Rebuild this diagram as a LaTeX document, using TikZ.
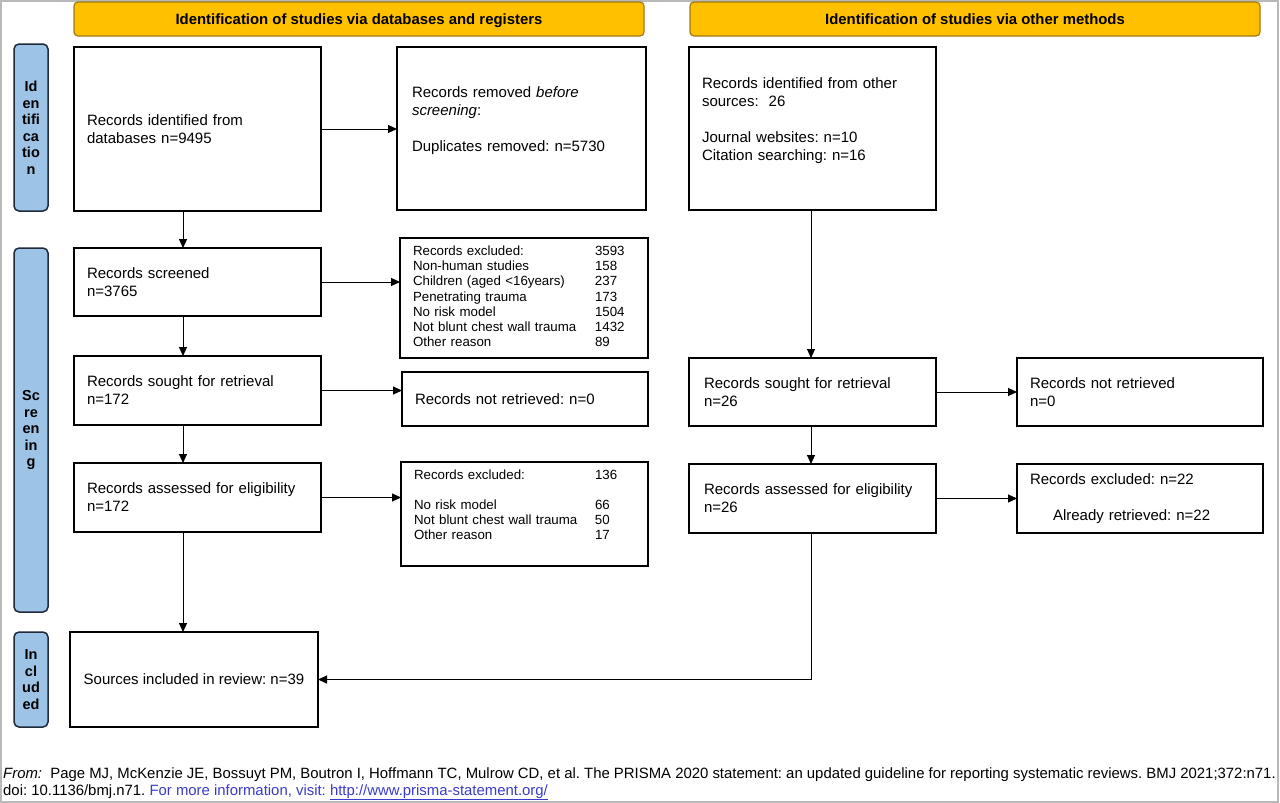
\documentclass[tikz,border=0pt]{standalone}
\usepackage{fontspec}
\setmainfont{Liberation Sans}
\usetikzlibrary{arrows.meta,calc}
\definecolor{hdr}{HTML}{FFC000}
\definecolor{hdrb}{HTML}{A07A10}
\definecolor{side}{HTML}{9DC3E6}
\definecolor{sideb}{HTML}{1F2A3A}
\definecolor{lnk}{HTML}{3A3ACC}
\frenchspacing
\begin{document}
\begin{tikzpicture}[x=1pt,y=-1pt,
 box/.style={draw=black, line width=1.6pt, fill=white, inner xsep=13pt, inner ysep=0pt, outer sep=0pt, align=left, font=\fontsize{15}{18}\selectfont},
 small/.style={font=\fontsize{13.3}{15.2}\selectfont},
 hdrbox/.style={draw=hdrb, fill=hdr, rounded corners=4pt, line width=1.2pt, minimum width=570pt, minimum height=34pt, inner sep=0pt, outer sep=0pt, text depth=0pt, font=\bfseries\fontsize{14.9}{18}\selectfont},
 sidebar/.style={draw=sideb, fill=side, rounded corners=5pt, line width=1.5pt, minimum width=34pt, inner sep=0pt, outer sep=0pt, align=center, font=\bfseries\fontsize{14.5}{16.5}\selectfont},
 arr/.style={line width=1pt, -{Triangle[length=9pt,width=8pt]}}]
\useasboundingbox (0,0) rectangle (1280,803);
\draw[gray!55, line width=1.5pt] (1,1) rectangle (1278,802);

% headers
\node[hdrbox] (h1) at (359,19) {Identification of studies via databases and registers};
\node[hdrbox] (h2) at (975,19) {Identification of studies via other methods};

% side bars
\node[sidebar, minimum height=167pt] (s1) at (31,127.5) {Id\\en\\tifi\\ca\\tio\\n};
\node[sidebar, minimum height=364pt] (s2) at (31,430) {Sc\\re\\en\\in\\g};
\node[sidebar, minimum height=95pt] (s3) at (31,679.5) {In\\cl\\ud\\ed};

% left column
\node[box, text width=221pt, minimum height=164pt] (A1) at (197.5,129) {Records identified from\\databases n=9495};
\node[box, inner xsep=15pt, text width=219pt, minimum height=163pt] (A2) at (521.5,128.5) {Records removed \textit{before}\\\textit{screening}:\\[18pt]Duplicates removed: n=5730\\~};
\node[box, text width=221pt, minimum height=68pt] (B1) at (197.5,282) {Records screened\\n=3765};
\node[box, small, text width=222pt, minimum height=120pt] (B2) at (524,298) {\begin{tabular}{@{}p{182pt}@{}l@{}}
Records excluded: & 3593\\
Non-human studies & 158\\
Children (aged <16years) & 237\\
Penetrating trauma & 173\\
No risk model & 1504\\
Not blunt chest wall trauma & 1432\\
Other reason & 89
\end{tabular}};
\node[box, text width=221pt, minimum height=69pt] (C1) at (197.5,390.5) {Records sought for retrieval\\n=172};
\node[box, text width=220pt, minimum height=54pt] (C2) at (525,399) {Records not retrieved: n=0};
\node[box, text width=221pt, minimum height=69pt] (D1) at (197.5,497.5) {Records assessed for eligibility\\n=172};
\node[box, small, text width=221pt, minimum height=104pt] (D2) at (524.5,514) {\begin{tabular}{@{}p{181pt}@{}l@{}}
Records excluded: & 136\\
 & \\
No risk model & 66\\
Not blunt chest wall trauma & 50\\
Other reason & 17\\
 &
\end{tabular}};
\node[box, align=center, inner xsep=0pt, minimum width=248pt, minimum height=95pt] (E1) at (194,679.5) {Sources included in review: n=39};

% right column
\node[box, text width=221pt, minimum height=163pt] (R1) at (812.5,128.5) {Records identified from other\\sources:~~26\\[18pt]Journal websites: n=10\\Citation searching: n=16\\~};
\node[box, inner xsep=15pt, text width=217pt, minimum height=68pt] (R2) at (812.5,392) {Records sought for retrieval\\n=26};
\node[box, text width=220pt, minimum height=68pt] (R3) at (1140,392) {Records not retrieved\\n=0};
\node[box, inner xsep=15pt, text width=217pt, minimum height=69pt] (R4) at (812.5,498.5) {Records assessed for eligibility\\n=26};
\node[box, text width=220pt, minimum height=69pt] (R5) at (1140,498.5) {Records excluded: n=22\\[18pt]\hspace*{23pt}Already retrieved: n=22};

% connectors
\coordinate (lx) at (183,0);
\coordinate (rx) at (811,0);
\draw[arr] (A1.east) -- (A1.east -| A2.west);
\draw[arr] (A1.south -| lx) -- (B1.north -| lx);
\draw[arr] (B1.east) -- (B1.east -| B2.west);
\draw[arr] (B1.south -| lx) -- (C1.north -| lx);
\draw[arr] (C1.east) -- (C1.east -| C2.west);
\draw[arr] (C1.south -| lx) -- (D1.north -| lx);
\draw[arr] (D1.east) -- (D1.east -| D2.west);
\draw[arr] (D1.south -| lx) -- (E1.north -| lx);
\draw[arr] (R1.south -| rx) -- (R2.north -| rx);
\draw[arr] (R2.east) -- (R2.east -| R3.west);
\draw[arr] (R2.south -| rx) -- (R4.north -| rx);
\draw[arr] (R4.east) -- (R4.east -| R5.west);
\draw[arr] (R4.south -| rx) |- (E1.east);

% footer
\node[anchor=north west, align=left, inner sep=0pt, font=\fontsize{14.9}{17}\selectfont] (foot) at (3,767) {\textit{From:}~~Page MJ, McKenzie JE, Bossuyt PM, Boutron I, Hoffmann TC, Mulrow CD, et al. The PRISMA 2020 statement: an updated guideline for reporting systematic reviews. BMJ 2021;372:n71.\\doi: 10.1136/bmj.n71. \textcolor{lnk}{For more information, visit: \underline{http://www.prisma-statement.org/}}};
\end{tikzpicture}
\end{document}
